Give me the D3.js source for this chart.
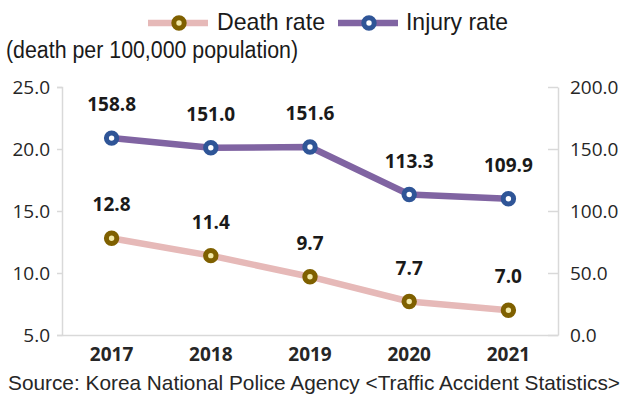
<!DOCTYPE html>
<html><head><meta charset="utf-8">
<script src="https://cdn.jsdelivr.net/npm/d3@7"></script>
<style>body{margin:0;background:#fff}svg{display:block}</style>
</head><body>
<svg id="c" width="627" height="403"></svg>
<script>
const years = ["2017","2018","2019","2020","2021"];
const deathRate = [12.8, 11.4, 9.7, 7.7, 7.0];
const injuryRate = [158.8, 151.0, 151.6, 113.3, 109.9];
const leftTicks = [5, 10, 15, 20, 25];
const rightTicks = [0, 50, 100, 150, 200];
const seriesNames = ["Death rate", "Injury rate"];
const unitLabel = "(death per 100,000 population)";
const sourceText = "Source: Korea National Police Agency <Traffic Accident Statistics>";

const svg = d3.select("#c");
const L = 62, R = 558, T = 87, B = 335;
const x = d3.scaleBand().domain(years).range([L, R]);
const yL = d3.scaleLinear().domain([5, 25]).range([B, T]);
const yR = d3.scaleLinear().domain([0, 200]).range([B, T]);
const numFont = "'Open Sans', sans-serif";
const txtFont = "'Liberation Sans', Arial, sans-serif";
const fmt = d3.format(".1f");

// left axis
const gl = svg.append("g").attr("transform", `translate(${L},0)`)
  .call(d3.axisLeft(yL).tickValues(leftTicks).tickFormat(fmt).tickSize(5).tickPadding(7));
// right axis
const gr = svg.append("g").attr("transform", `translate(${R},0)`)
  .call(d3.axisRight(yR).tickValues(rightTicks).tickFormat(fmt).tickSize(0).tickPadding(12));
gr.selectAll(".tick").append("line").attr("x1", -10).attr("x2", 0);
[gl, gr].forEach(g => {
  g.select(".domain").attr("stroke", "#d9d9d9").attr("stroke-width", 1.5);
  g.selectAll(".tick line").attr("stroke", "#d9d9d9").attr("stroke-width", 1.5);
  g.selectAll(".tick text").attr("font-family", numFont).attr("font-size", 19).attr("fill", "#262626");
});
// bottom axis
const gb = svg.append("g").attr("transform", `translate(0,${B})`)
  .call(d3.axisBottom(x).tickSize(0).tickPadding(13));
gb.select(".domain").attr("stroke", "#d9d9d9").attr("stroke-width", 1.5);
gb.selectAll(".tick text").attr("font-family", numFont).attr("font-size", 19)
  .attr("font-weight", "bold").attr("fill", "#262626");

const cx = d => x(d) + x.bandwidth() / 2;

function series(vals, scale, lineColor, ring, fill) {
  const line = d3.line().x((d, i) => cx(years[i])).y(d => scale(d));
  svg.append("path").datum(vals).attr("d", line).attr("fill", "none")
    .attr("stroke", lineColor).attr("stroke-width", 6.5).attr("stroke-linejoin", "round");
  svg.selectAll(null).data(vals).enter().append("circle")
    .attr("cx", (d, i) => cx(years[i])).attr("cy", d => scale(d)).attr("r", 5.2)
    .attr("fill", fill).attr("stroke", ring).attr("stroke-width", 5);
  svg.selectAll(null).data(vals).enter().append("text")
    .attr("x", (d, i) => cx(years[i])).attr("y", d => scale(d) - 27)
    .attr("text-anchor", "middle").attr("font-family", numFont).attr("font-size", 19)
    .attr("font-weight", "bold").attr("fill", "#1a1a1a").text(d => fmt(d));
}
series(deathRate, yL, "#e6b9b8", "#7f6000", "#f3e9a8");
series(injuryRate, yR, "#8064a2", "#2f5597", "#ffffff");

// legend
const leg = [
  {name: seriesNames[0], x0: 148, line: "#e6b9b8", ring: "#7f6000", fill: "#f3e9a8", tx: 217, tw: 108},
  {name: seriesNames[1], x0: 338, line: "#8064a2", ring: "#2f5597", fill: "#ffffff", tx: 406, tw: 102}
];
leg.forEach(l => {
  svg.append("line").attr("x1", l.x0).attr("x2", l.x0 + 60).attr("y1", 23).attr("y2", 23)
    .attr("stroke", l.line).attr("stroke-width", 6.5);
  svg.append("circle").attr("cx", l.x0 + 31).attr("cy", 23).attr("r", 5.2)
    .attr("fill", l.fill).attr("stroke", l.ring).attr("stroke-width", 5);
  svg.append("text").attr("x", l.tx).attr("y", 30).attr("font-family", txtFont)
    .attr("font-size", 24).attr("fill", "#1a1a1a")
    .attr("textLength", l.tw).attr("lengthAdjust", "spacingAndGlyphs").text(l.name);
});

svg.append("text").attr("x", 6).attr("y", 58).attr("font-family", txtFont)
  .attr("font-size", 23).attr("fill", "#1a1a1a")
  .attr("textLength", 292).attr("lengthAdjust", "spacingAndGlyphs").text(unitLabel);
svg.append("text").attr("x", 8).attr("y", 390).attr("font-family", txtFont)
  .attr("font-size", 21).attr("fill", "#262626")
  .attr("textLength", 612).attr("lengthAdjust", "spacingAndGlyphs").text(sourceText);
</script>
</body></html>
